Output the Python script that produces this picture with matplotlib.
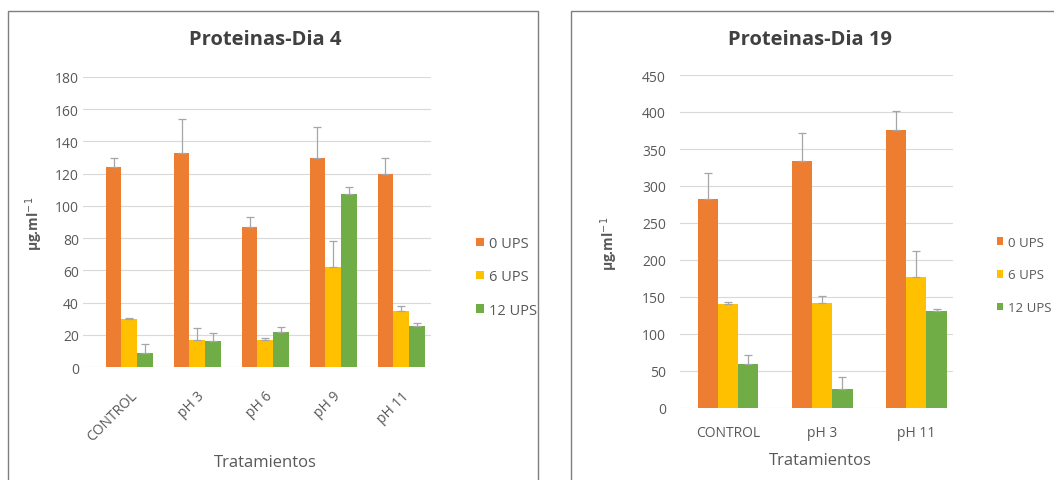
import matplotlib
matplotlib.use("Agg")
import matplotlib.pyplot as plt
from matplotlib.patches import Rectangle, Patch
from matplotlib.transforms import ScaledTranslation
import numpy as np

plt.rcParams['font.family'] = ['Open Sans', 'DejaVu Sans']

# ---- data ----
series_labels = ["0 UPS", "6 UPS", "12 UPS"]

day4_categories = ["CONTROL", "pH 3", "pH 6", "pH 9", "pH 11"]
day4_ups0 = [124, 133, 87, 130, 119.5]
day4_ups6 = [29.5, 17, 17, 62, 35]
day4_ups12 = [9, 16, 22, 107.5, 25.5]
day4_err0 = [6, 21, 6, 19, 10.5]
day4_err6 = [1, 7, 1, 16, 3]
day4_err12 = [5, 5, 3, 4.5, 2]
day4_yticks = [0, 20, 40, 60, 80, 100, 120, 140, 160, 180]

day19_categories = ["CONTROL", "pH 3", "pH 11"]
day19_ups0 = [283, 334, 376]
day19_ups6 = [141, 142, 177]
day19_ups12 = [59, 26, 131]
day19_err0 = [34, 37, 25]
day19_err6 = [2, 10, 35]
day19_err12 = [13, 16, 3]
day19_yticks = [0, 50, 100, 150, 200, 250, 300, 350, 400, 450]

colors = ["#ED7D31", "#FFC000", "#70AD47"]
text_color = "#595959"
grid_color = "#D9D9D9"
err_color = "#A6A6A6"

W, H = 1054, 481
fig = plt.figure(figsize=(W / 100, H / 100), dpi=100)


def px_axes(x0, y_top, x1, y_bottom):
    return fig.add_axes([x0 / W, 1 - y_bottom / H, (x1 - x0) / W, (y_bottom - y_top) / H])


def panel_frame(x0, y0, x1, y1):
    fig.patches.append(Rectangle((x0 / W, 1 - y1 / H), (x1 - x0) / W, (y1 - y0) / H,
                                 transform=fig.transFigure, fill=False,
                                 edgecolor="#7F7F7F", linewidth=1.0, clip_on=False))


def draw_bars(ax, cats, vals, errs, width, ylim, yticks, xlim, rot, tpad, ypad):
    x = np.arange(len(cats))
    for i, (v, e, c) in enumerate(zip(vals, errs, colors)):
        pos = x + (i - 1) * width
        ax.bar(pos, v, width=width, color=c, zorder=2)
        ax.errorbar(pos, v, yerr=[np.zeros(len(v)), e], fmt="none",
                    ecolor=err_color, elinewidth=0.9, capsize=3, capthick=0.9, zorder=3)
    ax.set_ylim(*ylim)
    ax.set_xlim(*xlim)
    ax.set_yticks(yticks)
    ax.set_xticks(x)
    if rot:
        ax.set_xticklabels(cats, rotation=45, ha="right", rotation_mode="anchor")
        shift = ScaledTranslation(-3 / 72, 0, fig.dpi_scale_trans)
        for lab in ax.get_xticklabels():
            lab.set_transform(lab.get_transform() + shift)
    else:
        ax.set_xticklabels(cats)
    ax.yaxis.grid(True, color=grid_color, linewidth=0.8, zorder=0)
    ax.set_axisbelow(True)
    for s in ax.spines.values():
        s.set_visible(False)
    ax.tick_params(axis="both", length=0, labelsize=10, colors=text_color)
    ax.tick_params(axis="x", pad=tpad)
    ax.tick_params(axis="y", pad=ypad)


handles = [Patch(facecolor=c) for c in colors]
legend_kw = dict(loc="center left", frameon=False,
                 handlelength=0.5, handleheight=0.5, handletextpad=0.35,
                 labelcolor=text_color, borderpad=0)

# ---- left panel: day 4 ----
panel_frame(8, 12, 538, 495)
ax1 = px_axes(83, 78, 431, 368)
draw_bars(ax1, day4_categories, [day4_ups0, day4_ups6, day4_ups12],
          [day4_err0, day4_err6, day4_err12], 0.23, (0, 180), day4_yticks,
          (-0.68, 4.44), True, 15, 3)
fig.text(265 / W, 1 - 40 / H, "Proteinas-Dia 4", ha="center", va="center",
         fontsize=14.5, fontweight="bold", color="#404040")
fig.text(265 / W, 1 - 463 / H, "Tratamientos", ha="center", va="center",
         fontsize=12, color=text_color)
fig.text(34 / W, 1 - 224 / H, r"µg.ml$^{-1}$", ha="center", va="center",
         rotation=90, fontsize=10, fontweight="bold", color=text_color)
fig.legend(handles, series_labels, bbox_to_anchor=(469 / W, 1 - 278 / H),
           fontsize=10.5, labelspacing=1.25, **legend_kw)

# ---- right panel: day 19 ----
panel_frame(571, 12, 1070, 495)
ax2 = px_axes(680, 76, 953, 409)
draw_bars(ax2, day19_categories, [day19_ups0, day19_ups6, day19_ups12],
          [day19_err0, day19_err6, day19_err12], 0.215, (0, 450), day19_yticks,
          (-0.51, 2.39), False, 12, 10)
fig.text(810 / W, 1 - 40 / H, "Proteinas-Dia 19", ha="center", va="center",
         fontsize=14.5, fontweight="bold", color="#404040")
fig.text(820 / W, 1 - 461 / H, "Tratamientos", ha="center", va="center",
         fontsize=12, color=text_color)
fig.text(609 / W, 1 - 244 / H, r"µg.ml$^{-1}$", ha="center", va="center",
         rotation=90, fontsize=10, fontweight="bold", color=text_color)
fig.legend(handles, series_labels, bbox_to_anchor=(990 / W, 1 - 276 / H),
           fontsize=9.5, labelspacing=1.5, **legend_kw)

fig.savefig("out.png", dpi=100, facecolor="white")
